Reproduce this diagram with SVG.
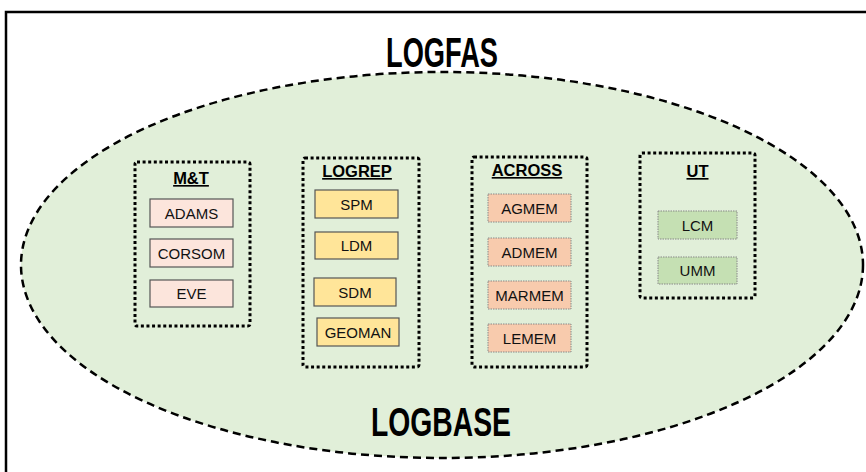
<svg xmlns="http://www.w3.org/2000/svg" width="866" height="472" viewBox="0 0 866 472">
<style>
.big{font-family:"Liberation Sans Narrow","Liberation Sans",Arial,sans-serif;font-weight:bold;fill:#000;text-anchor:middle}
.ttl{font-family:"Liberation Sans",Arial,sans-serif;font-weight:bold;font-size:16.5px;fill:#000;text-anchor:middle;text-decoration:underline}
.lbl{font-family:"Liberation Sans",Arial,sans-serif;font-size:15px;fill:#111;text-anchor:middle}
.grp{fill:none;stroke:#000;stroke-width:3;stroke-dasharray:3 2.6}
.mt{fill:#fce5dc;stroke:#555;stroke-width:1.2}
.lr{fill:#ffe599;stroke:#555;stroke-width:1.2}
.ac{fill:#f8cbad;stroke:#888;stroke-width:1;stroke-dasharray:1.5 1}
.ut{fill:#c5e0b3;stroke:#888;stroke-width:1;stroke-dasharray:1.5 1}
</style>
<rect x="0" y="0" width="866" height="472" fill="#fff"/>
<path d="M6,472 V12 H866" fill="none" stroke="#000" stroke-width="2.5"/>
<g id="logfas"><text class="big" x="442" y="67" font-size="42" textLength="112" lengthAdjust="spacingAndGlyphs">LOGFAS</text></g>
<g id="logbase">
<ellipse cx="442" cy="265" rx="421" ry="193" fill="#e1efd9" stroke="#000" stroke-width="2.5" stroke-dasharray="8 5"/>
<text class="big" x="441" y="436" font-size="40" textLength="140" lengthAdjust="spacingAndGlyphs">LOGBASE</text>
</g>
<g id="mt">
<rect class="grp" x="135" y="162" width="115" height="164" rx="2"/>
<text class="ttl" x="191" y="184">M&amp;T</text>
<g id="adams"><rect class="mt" x="150" y="199" width="83" height="28"/><text class="lbl" x="191.5" y="218.5">ADAMS</text></g>
<g id="corsom"><rect class="mt" x="150" y="239" width="83" height="28"/><text class="lbl" x="191.5" y="258.5">CORSOM</text></g>
<g id="eve"><rect class="mt" x="150" y="280" width="83" height="27"/><text class="lbl" x="191.5" y="299">EVE</text></g>
</g>
<g id="logrep">
<rect class="grp" x="303" y="158" width="116" height="209" rx="2"/>
<text class="ttl" x="357" y="177">LOGREP</text>
<g id="spm"><rect class="lr" x="315" y="190" width="83" height="28"/><text class="lbl" x="356.5" y="209.5">SPM</text></g>
<g id="ldm"><rect class="lr" x="315" y="232" width="83" height="27"/><text class="lbl" x="356.5" y="251">LDM</text></g>
<g id="sdm"><rect class="lr" x="314" y="278" width="82" height="28"/><text class="lbl" x="355" y="297.5">SDM</text></g>
<g id="geoman"><rect class="lr" x="317" y="318" width="82" height="28"/><text class="lbl" x="358" y="337.5">GEOMAN</text></g>
</g>
<g id="across">
<rect class="grp" x="472" y="157" width="115" height="210" rx="2"/>
<text class="ttl" x="527" y="176">ACROSS</text>
<g id="agmem"><rect class="ac" x="488" y="194" width="83" height="28"/><text class="lbl" x="529.5" y="213.5">AGMEM</text></g>
<g id="admem"><rect class="ac" x="488" y="238" width="83" height="28"/><text class="lbl" x="529.5" y="257.5">ADMEM</text></g>
<g id="marmem"><rect class="ac" x="488" y="281" width="83" height="28"/><text class="lbl" x="529.5" y="300.5">MARMEM</text></g>
<g id="lemem"><rect class="ac" x="488" y="324" width="83" height="28"/><text class="lbl" x="529.5" y="343.5">LEMEM</text></g>
</g>
<g id="ut">
<rect class="grp" x="640" y="153" width="115" height="145" rx="2"/>
<text class="ttl" x="697.5" y="177">UT</text>
<g id="lcm"><rect class="ut" x="658" y="211" width="79" height="28"/><text class="lbl" x="697.5" y="230.5">LCM</text></g>
<g id="umm"><rect class="ut" x="658" y="257" width="79" height="27"/><text class="lbl" x="697.5" y="276">UMM</text></g>
</g>
<g id="connectors"/>
</svg>
